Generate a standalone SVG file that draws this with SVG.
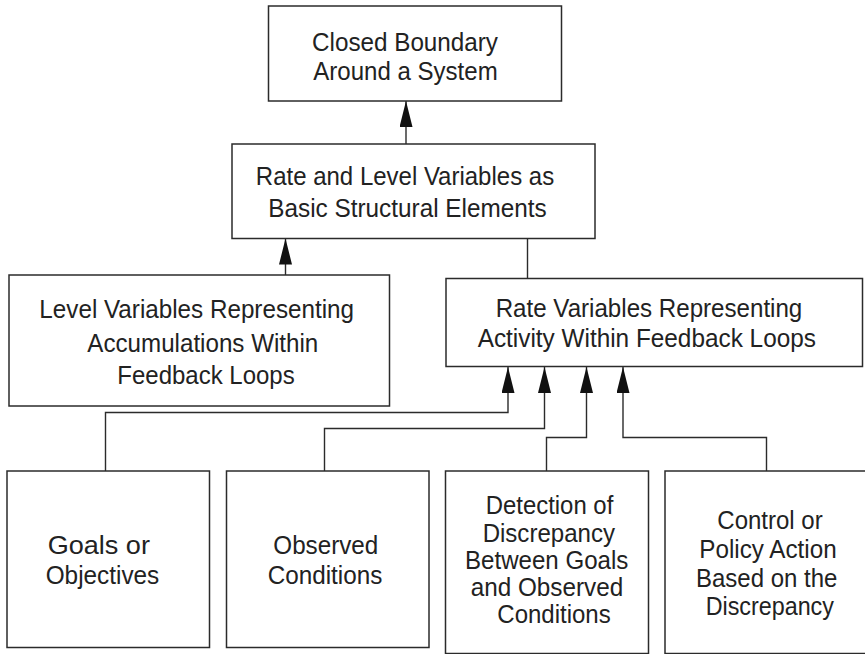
<svg xmlns="http://www.w3.org/2000/svg" width="865" height="654" viewBox="0 0 865 654">
  <style>
    .box { fill: #ffffff; stroke: #2b2b2b; stroke-width: 1.5; }
    .lbl { font-family: "Liberation Sans", Arial, Helvetica, sans-serif; font-size: 25.5px; fill: #222222; text-anchor: middle; }
    .wire { fill: none; stroke: #2b2b2b; stroke-width: 1.4; }
    .wire.arrow { marker-end: url(#head); }
  </style>
  <defs>
    <marker id="head" markerUnits="userSpaceOnUse" markerWidth="27" markerHeight="14" refX="26" refY="6.5" orient="auto">
      <path d="M0,0 L26,6.5 L0,13 Z" fill="#111111"/>
    </marker>
  </defs>
  <rect width="865" height="654" fill="#ffffff"/>

  <!-- connectors -->
  <g id="connectors">
    <path class="wire arrow" d="M406,144 V101"/>
    <path class="wire arrow" d="M285.5,275 V238.5"/>
    <path class="wire" d="M527.5,238.5 V278.5"/>
    <path class="wire arrow" d="M105.5,471 V412.5 H508 V367"/>
    <path class="wire arrow" d="M324.5,471 V428.5 H544.5 V367"/>
    <path class="wire arrow" d="M546.5,471 V437.5 H586.5 V367"/>
    <path class="wire arrow" d="M766.5,471 V437.5 H623 V367"/>
  </g>

  <g id="closed-boundary">
    <rect class="box" x="268.5" y="6" width="293" height="95"/>
    <text class="lbl" x="405" y="51" textLength="186" lengthAdjust="spacingAndGlyphs">Closed Boundary</text>
    <text class="lbl" x="405.5" y="79.5" textLength="184.4" lengthAdjust="spacingAndGlyphs">Around a System</text>
  </g>

  <g id="rate-level">
    <rect class="box" x="232" y="144" width="363" height="94.5"/>
    <text class="lbl" x="405" y="185" textLength="298.3" lengthAdjust="spacingAndGlyphs">Rate and Level Variables as</text>
    <text class="lbl" x="407.5" y="217" textLength="278.4" lengthAdjust="spacingAndGlyphs">Basic Structural Elements</text>
  </g>

  <g id="level-variables">
    <rect class="box" x="9" y="275" width="380.5" height="131"/>
    <text class="lbl" x="196.7" y="318" textLength="314.7" lengthAdjust="spacingAndGlyphs">Level Variables Representing</text>
    <text class="lbl" x="202.8" y="351.5" textLength="231" lengthAdjust="spacingAndGlyphs">Accumulations Within</text>
    <text class="lbl" x="206" y="384" textLength="177.4" lengthAdjust="spacingAndGlyphs">Feedback Loops</text>
  </g>

  <g id="rate-variables">
    <rect class="box" x="446" y="278.5" width="416.5" height="88"/>
    <text class="lbl" x="649" y="317" textLength="306.6" lengthAdjust="spacingAndGlyphs">Rate Variables Representing</text>
    <text class="lbl" x="646.8" y="347" textLength="338.3" lengthAdjust="spacingAndGlyphs">Activity Within Feedback Loops</text>
  </g>

  <g id="goals">
    <rect class="box" x="7" y="471" width="202.5" height="176.5"/>
    <text class="lbl" x="98.8" y="554" textLength="102.3" lengthAdjust="spacingAndGlyphs">Goals or</text>
    <text class="lbl" x="102.5" y="584" textLength="113.6" lengthAdjust="spacingAndGlyphs">Objectives</text>
  </g>

  <g id="observed">
    <rect class="box" x="226.5" y="471" width="202.5" height="176.5"/>
    <text class="lbl" x="325.8" y="554" textLength="105" lengthAdjust="spacingAndGlyphs">Observed</text>
    <text class="lbl" x="325" y="584" textLength="114.6" lengthAdjust="spacingAndGlyphs">Conditions</text>
  </g>

  <g id="detection">
    <rect class="box" x="445.5" y="471" width="203" height="182.5"/>
    <text class="lbl" x="549.5" y="513.5" textLength="127.6" lengthAdjust="spacingAndGlyphs">Detection of</text>
    <text class="lbl" x="548.8" y="541.5" textLength="132.3" lengthAdjust="spacingAndGlyphs">Discrepancy</text>
    <text class="lbl" x="546.7" y="568.5" textLength="163.3" lengthAdjust="spacingAndGlyphs">Between Goals</text>
    <text class="lbl" x="547" y="595.5" textLength="152.6" lengthAdjust="spacingAndGlyphs">and Observed</text>
    <text class="lbl" x="554" y="623" textLength="113.4" lengthAdjust="spacingAndGlyphs">Conditions</text>
  </g>

  <g id="control">
    <rect class="box" x="665" y="471" width="210" height="182.5"/>
    <text class="lbl" x="770" y="528.5" textLength="105.4" lengthAdjust="spacingAndGlyphs">Control or</text>
    <text class="lbl" x="768" y="558" textLength="137.4" lengthAdjust="spacingAndGlyphs">Policy Action</text>
    <text class="lbl" x="766.7" y="586.5" textLength="141.3" lengthAdjust="spacingAndGlyphs">Based on the</text>
    <text class="lbl" x="769.8" y="615" textLength="128.3" lengthAdjust="spacingAndGlyphs">Discrepancy</text>
  </g>
</svg>
